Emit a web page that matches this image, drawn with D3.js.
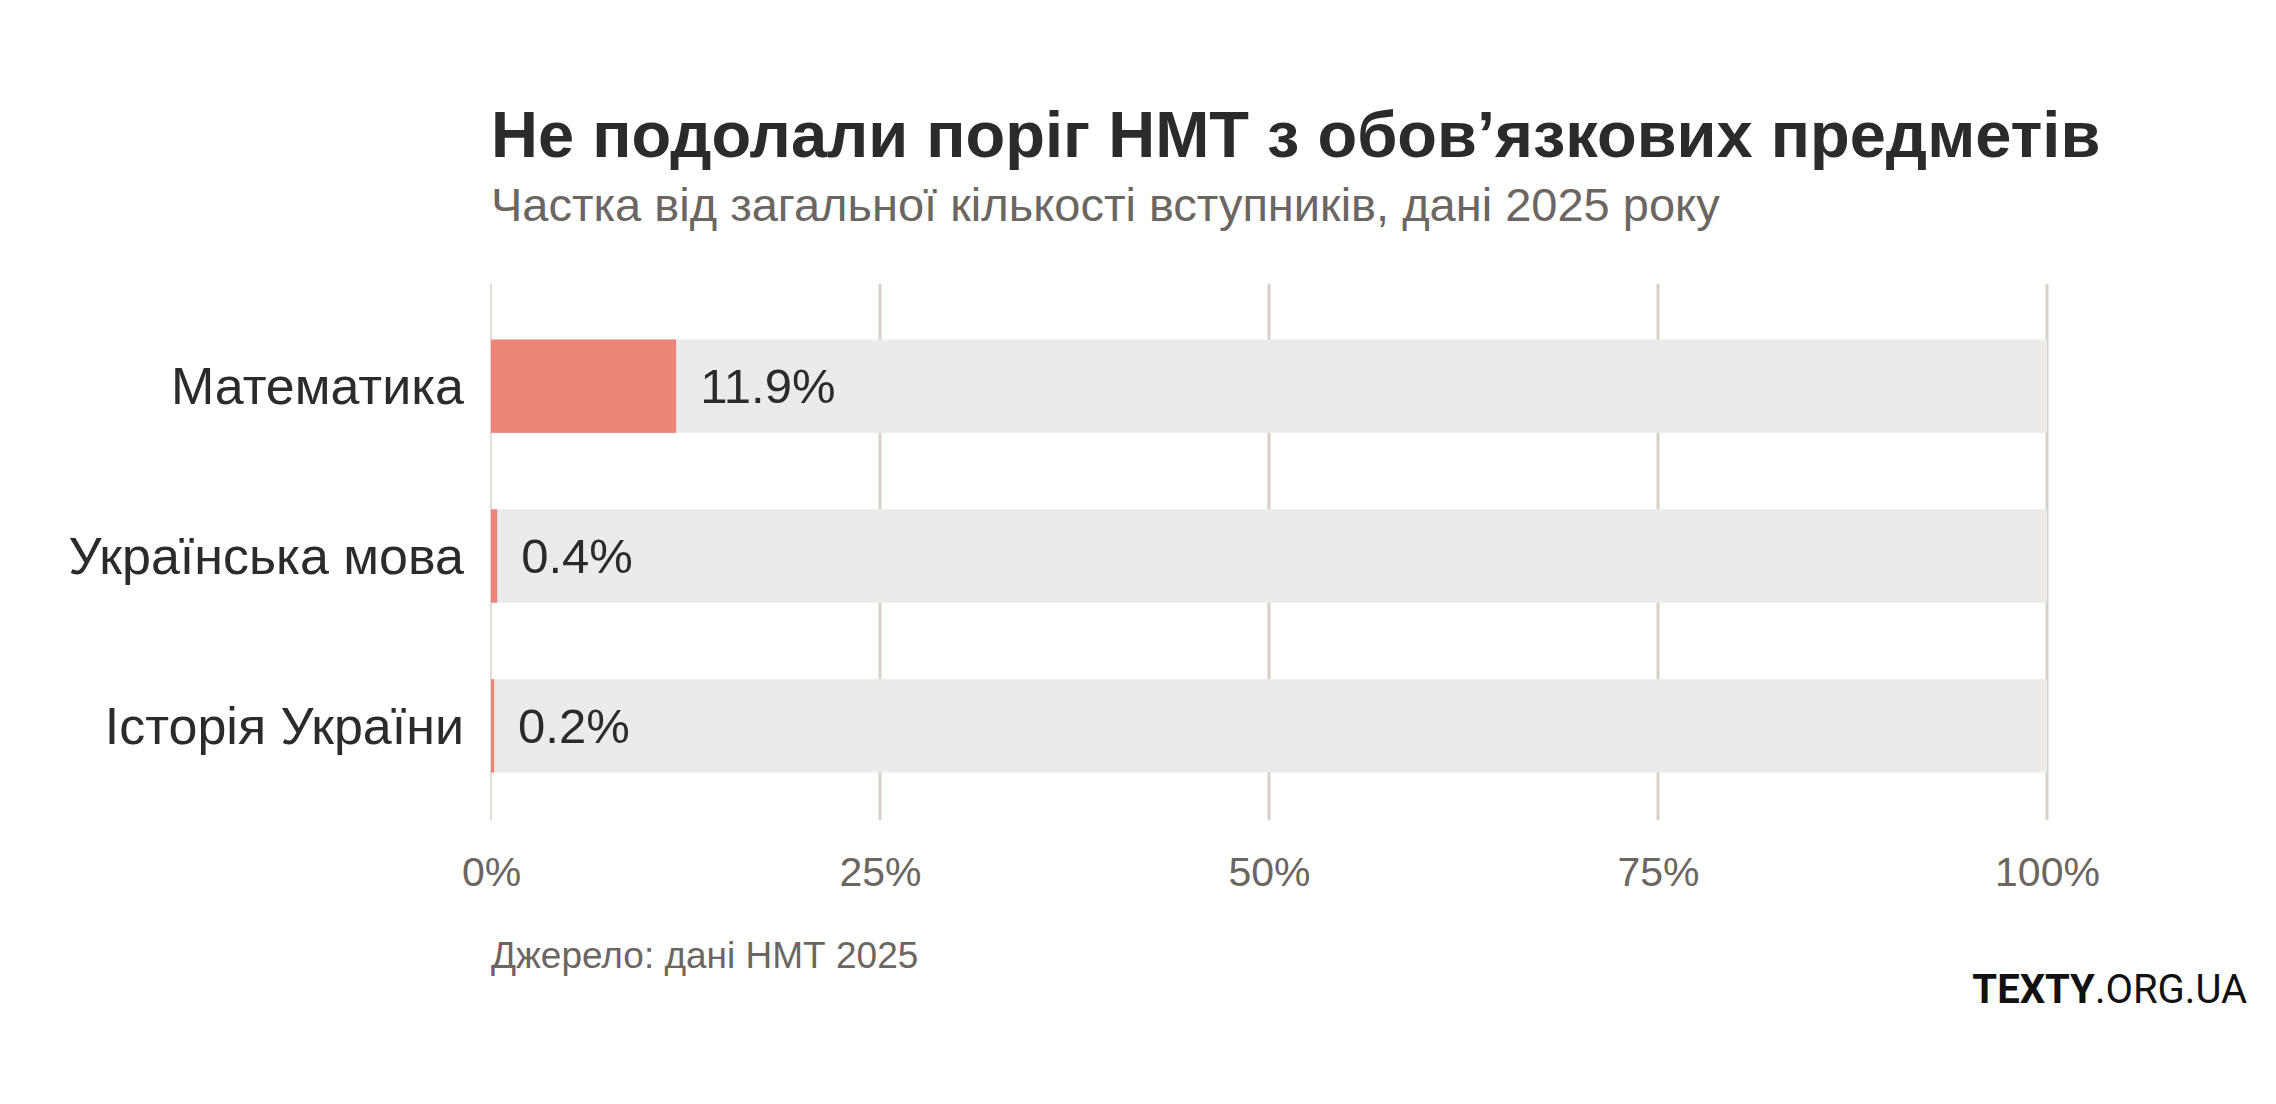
<!DOCTYPE html>
<html>
<head>
<meta charset="utf-8">
<script src="https://cdn.jsdelivr.net/npm/d3@7"></script>
<style>
  html, body { margin: 0; padding: 0; background: #fff; }
  svg { display: block; font-family: "Liberation Sans", Arial, Helvetica, sans-serif; }
</style>
</head>
<body>
<svg id="chart"></svg>
<script>
  // data
  var categories = ["Математика", "Українська мова", "Історія України"];
  var values = [11.9, 0.4, 0.2];
  var tickValues = [0, 25, 50, 75, 100];

  var width = 2276;
  var height = 1104;

  var svg = d3.select("#chart")
    .attr("width", width)
    .attr("height", height);

  var x = d3.scaleLinear().domain([0, 100]).range([491, 2047]);
  var y = d3.scaleBand()
    .domain(categories)
    .range([297, 815])
    .paddingInner(0.45)
    .paddingOuter(0.25);

  // title + subtitle
  svg.append("text")
    .attr("x", 491).attr("y", 157)
    .attr("fill", "#2b2b2b")
    .attr("font-size", 65)
    .attr("font-weight", "bold")
    .text("Не подолали поріг НМТ з обов’язкових предметів");

  svg.append("text")
    .attr("x", 491).attr("y", 221)
    .attr("fill", "#6b6662")
    .attr("font-size", 47)
    .text("Частка від загальної кількості вступників, дані 2025 року");

  // gridlines
  var grid = svg.append("g").attr("class", "grid");
  grid.selectAll("line")
    .data(tickValues)
    .enter().append("line")
      .attr("x1", function(d){ return x(d); })
      .attr("x2", function(d){ return x(d); })
      .attr("y1", 284)
      .attr("y2", 820)
      .attr("stroke", "#d8d0c8")
      .attr("stroke-width", function(d){ return d == 0 ? 1.5 : 3; });

  // background bars
  svg.append("g").selectAll("rect")
    .data(categories)
    .enter().append("rect")
      .attr("x", x(0))
      .attr("y", function(d){ return y(d); })
      .attr("width", x(100) - x(0))
      .attr("height", y.bandwidth())
      .attr("fill", "#ebebeb");

  // value bars
  svg.append("g").selectAll("rect")
    .data(values)
    .enter().append("rect")
      .attr("x", x(0))
      .attr("y", function(d, i){ return y(categories[i]); })
      .attr("width", function(d){ return x(d) - x(0); })
      .attr("height", y.bandwidth())
      .attr("fill", "#ea8779");

  // value labels
  var fmt = d3.format(".1f");
  svg.append("g").selectAll("text")
    .data(values)
    .enter().append("text")
      .attr("x", function(d){ return x(d) + 24; })
      .attr("y", function(d, i){ return y(categories[i]) + y.bandwidth() / 2; })
      .attr("dy", "0.35em")
      .attr("fill", "#2b2b2b")
      .attr("font-size", 49)
      .text(function(d){ return fmt(d) + "%"; });

  // category labels
  svg.append("g").selectAll("text")
    .data(categories)
    .enter().append("text")
      .attr("x", 464)
      .attr("y", function(d){ return y(d) + y.bandwidth() / 2; })
      .attr("dy", "0.35em")
      .attr("text-anchor", "end")
      .attr("fill", "#2b2b2b")
      .attr("font-size", 52)
      .text(function(d){ return d; });

  // x axis
  var xAxis = d3.axisBottom(x)
    .tickValues(tickValues)
    .tickSize(0)
    .tickPadding(0)
    .tickFormat(function(d){ return d + "%"; });

  var gx = svg.append("g")
    .attr("transform", "translate(0,872)")
    .call(xAxis);
  gx.select(".domain").remove();
  gx.selectAll("text")
    .attr("dy", "0.35em")
    .attr("fill", "#6b6662")
    .attr("font-size", 41)
    .attr("font-family", "Liberation Sans, Arial, sans-serif");

  // source
  svg.append("text")
    .attr("x", 491).attr("y", 968)
    .attr("fill", "#6b6662")
    .attr("font-size", 37)
    .text("Джерело: дані НМТ 2025");

  // logo
  var logo = svg.append("text")
    .attr("x", 2247).attr("y", 1003)
    .attr("text-anchor", "end")
    .attr("fill", "#111")
    .attr("font-family", "Roboto, sans-serif")
    .attr("font-size", 40);
  logo.append("tspan").attr("font-weight", "bold").text("TEXTY");
  logo.append("tspan").attr("font-weight", "normal").text(".ORG.UA");
</script>
</body>
</html>
